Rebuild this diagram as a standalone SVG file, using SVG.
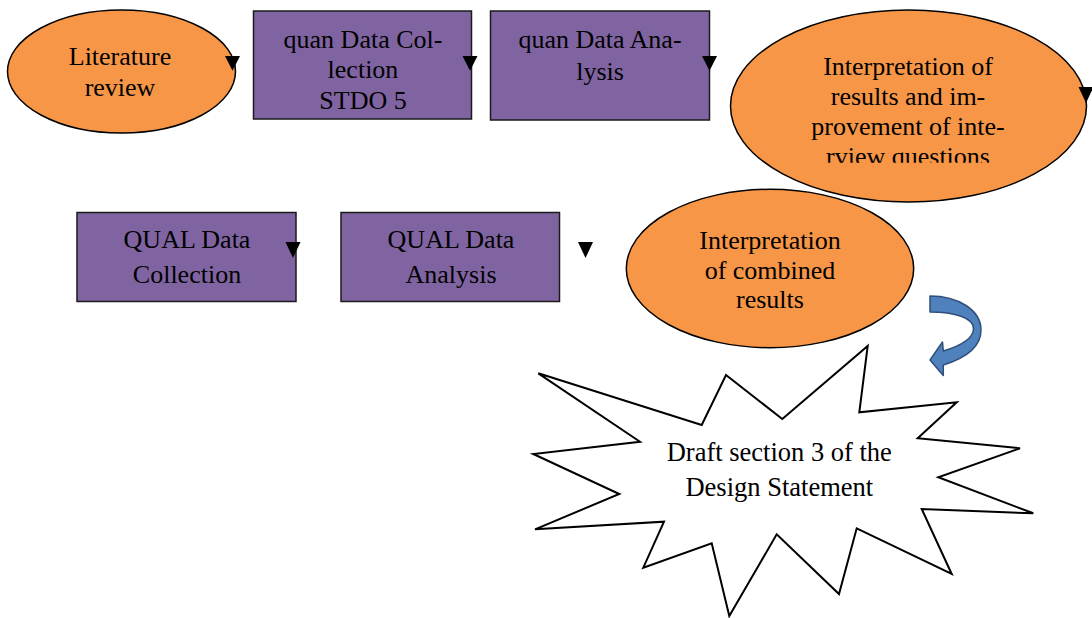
<svg xmlns="http://www.w3.org/2000/svg" width="1092" height="618" viewBox="0 0 1092 618">
  <style>
    .orange { fill: #F79646; stroke: #000000; stroke-width: 1.5; }
    .purple { fill: #8064A2; stroke: #1a1a1a; stroke-width: 1.5; }
    .star { fill: #FFFFFF; stroke: #000000; stroke-width: 2; stroke-linejoin: miter; }
    .lbl { font-family: "Liberation Serif", "Times New Roman", serif; font-size: 26px; fill: #000000; text-anchor: middle; }
    .head { fill: #000000; stroke: none; }
    .curved { fill: #4F81BD; stroke: #2F4F7A; stroke-width: 1.5; stroke-linejoin: round; }
  </style>
  <defs>
    <clipPath id="clipInterp">
      <rect x="740" y="40" width="340" height="122.7"/>
    </clipPath>
  </defs>
  <rect width="1092" height="618" fill="#FFFFFF"/>

  <g id="literature-review">
    <ellipse class="orange" cx="121.5" cy="71.5" rx="114" ry="61.5"/>
    <text class="lbl" x="120" y="65">Literature</text>
    <text class="lbl" x="120" y="96">review</text>
  </g>

  <g id="quan-data-collection">
    <rect class="purple" x="253.5" y="11" width="218" height="108"/>
    <text class="lbl" x="363" y="47.5">quan Data Col-</text>
    <text class="lbl" x="363" y="78">lection</text>
    <text class="lbl" x="363" y="108.5">STDO 5</text>
  </g>

  <g id="quan-data-analysis">
    <rect class="purple" x="490.5" y="11" width="219" height="109"/>
    <text class="lbl" x="600" y="48">quan Data Ana-</text>
    <text class="lbl" x="600" y="80">lysis</text>
  </g>

  <g id="interpretation-results">
    <ellipse class="orange" cx="908.5" cy="106" rx="178" ry="96"/>
    <g clip-path="url(#clipInterp)">
      <text class="lbl" x="908" y="75">Interpretation of</text>
      <text class="lbl" x="908" y="104.5">results and im-</text>
      <text class="lbl" x="908" y="134.5">provement of inte-</text>
      <text class="lbl" x="908" y="164.5">rview questions</text>
    </g>
  </g>

  <g id="qual-data-collection">
    <rect class="purple" x="77" y="212.5" width="219" height="89"/>
    <text class="lbl" x="187" y="248">QUAL Data</text>
    <text class="lbl" x="187" y="282.5">Collection</text>
  </g>

  <g id="qual-data-analysis">
    <rect class="purple" x="341" y="212.5" width="218.5" height="89"/>
    <text class="lbl" x="451" y="248">QUAL Data</text>
    <text class="lbl" x="451" y="282.5">Analysis</text>
  </g>

  <g id="interpretation-combined">
    <ellipse class="orange" cx="770" cy="268.5" rx="143.7" ry="79.2"/>
    <text class="lbl" x="770" y="249.3">Interpretation</text>
    <text class="lbl" x="770" y="279.3">of combined</text>
    <text class="lbl" x="770" y="308.3">results</text>
  </g>

  <g id="draft-section">
    <polygon class="star" points="538.3,373.3 701.7,425 726,375 782.3,419 867.7,346 859.3,412.3 956.7,402.3 917.7,438.3 1020,448.3 938.3,477.3 1033.3,513.3 921.7,509 951.7,574 856.7,528.3 839,594 776.7,534.3 729.3,616 711.7,543.3 643.3,567.7 664,521.7 535,529.3 619.3,494 533.3,454 640,441.7"/>
    <text class="lbl" x="779.3" y="460.7" style="font-size:26.5px">Draft section 3 of the</text>
    <text class="lbl" x="779.3" y="496" style="font-size:26.5px">Design Statement</text>
  </g>

  <g id="connectors">
    <polygon class="head" points="225,56 240,56 232.5,70.7"/>
    <polygon class="head" points="462.5,56 477.5,56 470,70.7"/>
    <polygon class="head" points="702,56 717,56 709.5,70.7"/>
    <polygon class="head" points="1078.5,87 1093.5,87 1086,103"/>
    <polygon class="head" points="285.5,242 300.5,242 293,258"/>
    <polygon class="head" points="578,242 593,242 585.5,258"/>
    <path class="curved" d="M930,296 C958,296 981,310 981,330 C981,347 966,358 943.3,365 L943.3,375.5 L930,360 L942.5,342 L943.3,351 C960,346 973.5,339 973.5,328.5 C973.5,318 955,312 930,312 Z"/>
  </g>
</svg>
